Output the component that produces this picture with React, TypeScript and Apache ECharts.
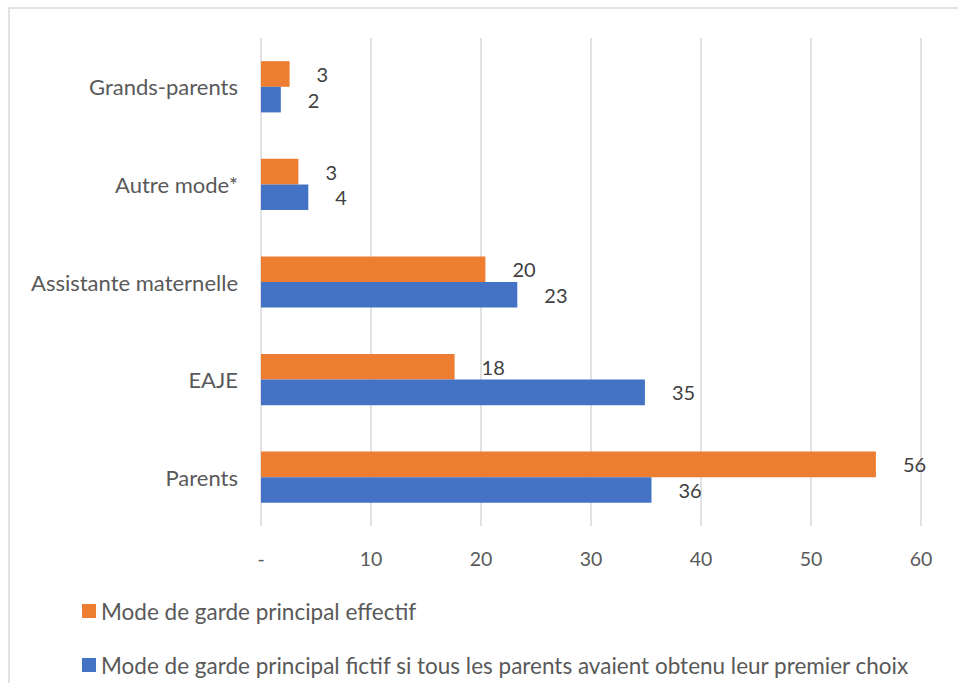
import React, { useEffect, useRef } from "react";
import * as echarts from "echarts";

const categories = ["Parents", "EAJE", "Assistante maternelle", "Autre mode*", "Grands-parents"];
const effectif = [55.9, 17.6, 20.4, 3.4, 2.6];
const fictif = [35.5, 34.9, 23.3, 4.3, 1.8];
const seriesNames = [
  "Mode de garde principal effectif",
  "Mode de garde principal fictif si tous les parents avaient obtenu leur premier choix",
];
const xTicks = { min: 0, max: 60, interval: 10 };

const FONT = "Lato";

export default function App() {
  const ref = useRef<HTMLDivElement>(null);
  useEffect(() => {
    if (!ref.current) return;
    const chart = echarts.init(ref.current, undefined, { renderer: "svg" });
    const label = {
      show: true,
      position: "right",
      distance: 27,
      fontFamily: FONT,
      fontSize: 20,
      color: "#404040",
      formatter: (p: any) => String(Math.round(p.value)),
    };
    chart.setOption({
      animation: false,
      backgroundColor: "#ffffff",
      textStyle: { fontFamily: FONT },
      graphic: [
        {
          type: "rect",
          shape: { x: 9, y: 8, width: 1000, height: 800 },
          style: { fill: "none", stroke: "#d9d9d9", lineWidth: 1.5 },
          silent: true,
        },
      ],
      grid: { left: 261, right: 37, top: 38, bottom: 157, containLabel: false },
      legend: {
        orient: "vertical",
        left: 77,
        top: 593,
        height: 120,
        padding: 5,
        icon: "rect",
        itemWidth: 14,
        itemHeight: 14,
        itemGap: 28,
        data: seriesNames,
        textStyle: { fontFamily: FONT, fontSize: 22.5, color: "#595959", lineHeight: 26 },
      },
      xAxis: {
        type: "value",
        min: xTicks.min,
        max: xTicks.max,
        interval: xTicks.interval,
        axisLine: { show: false },
        axisTick: { show: false },
        splitLine: { lineStyle: { color: "#d9d9d9", width: 1.5 } },
        axisLabel: {
          fontFamily: FONT,
          fontSize: 19.5,
          color: "#595959",
          margin: 22,
          formatter: (v: number) => (v === 0 ? "-" : String(v)),
        },
      },
      yAxis: {
        type: "category",
        data: categories,
        axisLine: { show: false },
        axisTick: { show: false },
        axisLabel: { fontFamily: FONT, fontSize: 22, color: "#595959", margin: 23 },
      },
      series: [
        {
          name: seriesNames[0],
          type: "bar",
          data: effectif,
          itemStyle: { color: "#ED7D31" },
          barGap: "0%",
          barCategoryGap: "47.5%",
          label,
        },
        {
          name: seriesNames[1],
          type: "bar",
          data: fictif,
          itemStyle: { color: "#4472C4" },
          barGap: "0%",
          barCategoryGap: "47.5%",
          label,
        },
      ],
    });
    return () => chart.dispose();
  }, []);
  return (
    <div
      ref={ref}
      style={{ position: "fixed", left: 0, top: 0, width: 958, height: 683 }}
    />
  );
}
